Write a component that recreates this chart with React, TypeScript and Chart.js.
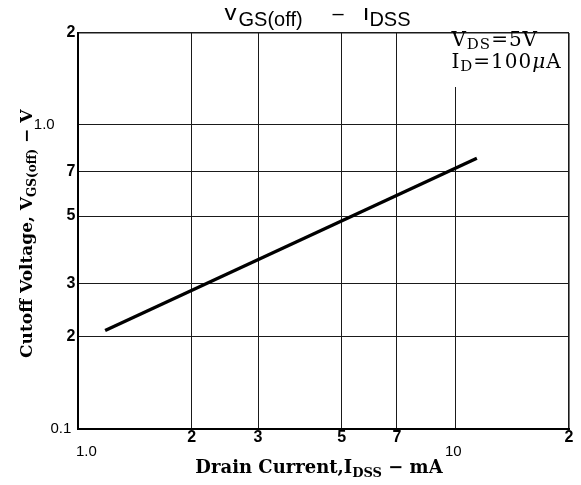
import { useEffect, useRef } from 'react';
import { Chart, registerables } from 'chart.js';

Chart.register(...registerables);

// ---- data ----
const X_TICKS = [1, 2, 3, 5, 7, 10, 20];
const X_LABELS: (string | string[])[] = [['', '    1.0'], '2', '3', '5', '7', ['', '10 '], '2'];
const Y_TICKS = [0.1, 0.2, 0.3, 0.5, 0.7, 1, 2];
const Y_LABELS = ['0.1 ', '2', '3', '5', '7', '1.0     ', '2'];
const I_DSS_MA = [1.18, 11.4];
const V_GS_OFF = [0.21, 0.775];

type Seg = { t?: string; size?: number; weight?: string; style?: string; family?: string; dy?: number; gap?: number };

function segFont(s: Seg, family: string) {
  return `${s.style || 'normal'} ${s.weight || 'normal'} ${s.size || 16}px ${s.family || family}`;
}

function drawSegs(ctx: CanvasRenderingContext2D, segs: Seg[], x: number, y: number, align: 'left' | 'center', family: string) {
  let total = 0;
  const widths = segs.map((s) => {
    if (s.gap !== undefined) return s.gap;
    ctx.font = segFont(s, family);
    return ctx.measureText(s.t || '').width;
  });
  widths.forEach((w) => (total += w));
  let cx = align === 'center' ? x - total / 2 : x;
  ctx.textBaseline = 'alphabetic';
  ctx.textAlign = 'left';
  segs.forEach((s, i) => {
    if (s.gap === undefined) {
      ctx.font = segFont(s, family);
      ctx.fillText(s.t || '', cx, y + (s.dy || 0));
    }
    cx += widths[i];
  });
}

const textPlugin = {
  id: 'texts',
  afterDraw(chart: any) {
    const ctx: CanvasRenderingContext2D = chart.ctx;
    const area = chart.chartArea;
    const xs = chart.scales.x;
    ctx.save();
    ctx.fillStyle = '#000';

    // annotation box (white background hides the 10 mA grid line)
    const boxLeft = xs.getPixelForValue(10) - 7;
    ctx.fillStyle = '#fff';
    ctx.fillRect(boxLeft, area.top + 1, area.right - 1 - boxLeft, 53);
    ctx.fillStyle = '#000';
    (ctx as any).letterSpacing = '1px';
    drawSegs(ctx, [
      { t: 'V', size: 20 },
      { t: 'DS', size: 15, dy: 3 },
      { t: '=', size: 20 },
      { t: '5V', size: 20 },
    ], boxLeft + 3, area.top + 13, 'left', '"DejaVu Serif"');
    drawSegs(ctx, [
      { t: 'I', size: 20 },
      { t: 'D', size: 15, dy: 3 },
      { t: '=', size: 20 },
      { t: '100', size: 20 },
      { t: 'μ', size: 20, style: 'italic' },
      { t: 'A', size: 20 },
    ], boxLeft + 3, area.top + 34.7, 'left', '"DejaVu Serif"');
    (ctx as any).letterSpacing = '0px';

    // title
    drawSegs(ctx, [
      { t: 'V', size: 24 },
      { t: 'GS(off)', size: 20, dy: 6 },
      { gap: 30 },
      { t: '–', size: 20 },
      { gap: 19 },
      { t: 'I', size: 24 },
      { t: 'DSS', size: 20, dy: 6 },
    ], (area.left + area.right) / 2 - 7, 12.4, 'center', '"Liberation Sans"');

    // x title
    drawSegs(ctx, [
      { t: 'Drain Current,I', size: 18, weight: 'bold' },
      { t: 'DSS', size: 13, weight: 'bold', dy: 4 },
      { t: ' − mA', size: 18, weight: 'bold' },
    ], (area.left + area.right) / 2 - 4.5, area.bottom + 44.2, 'center', '"DejaVu Serif"');

    // y title
    ctx.translate(24, (area.top + area.bottom) / 2 + 3);
    ctx.rotate(-Math.PI / 2);
    drawSegs(ctx, [
      { t: 'Cutoff Voltage, V', size: 17, weight: 'bold' },
      { t: 'GS(off)', size: 12, weight: 'bold', dy: 4 },
      { t: ' − V', size: 17, weight: 'bold' },
    ], 0, 0, 'center', '"DejaVu Serif"');
    ctx.restore();
  },
};

const BOLD_X = [false, true, true, true, true, false, true];
const BOLD_Y = [false, true, true, true, true, false, true];

export default function App() {
  const ref = useRef<HTMLCanvasElement | null>(null);
  useEffect(() => {
    if (!ref.current) return;
    const chart = new Chart(ref.current, {
      type: 'line',
      data: {
        datasets: [
          {
            data: I_DSS_MA.map((x, i) => ({ x, y: V_GS_OFF[i] })),
            borderColor: '#000',
            borderWidth: 3.3,
            pointRadius: 0,
            fill: false,
            tension: 0,
          },
        ],
      },
      options: {
        animation: false,
        responsive: false,
        devicePixelRatio: 1,
        layout: { padding: { left: 0, right: 4, top: 25, bottom: 0 } },
        plugins: { legend: { display: false }, tooltip: { enabled: false }, title: { display: false } },
        scales: {
          x: {
            type: 'logarithmic',
            min: 1,
            max: 20,
            afterBuildTicks: (s: any) => {
              s.ticks = X_TICKS.map((v) => ({ value: v }));
            },
            afterFit: (s: any) => {
              s.height = 48.5;
              s.paddingLeft = 0;
              s.paddingRight = 0;
            },
            ticks: {
              autoSkip: false,
              maxRotation: 0,
              minRotation: 0,
              padding: 1.5,
              color: '#000',
              font: (c: any) => ({
                family: '"Liberation Sans"',
                size: BOLD_X[c.index] ? 16 : 15,
                weight: BOLD_X[c.index] ? 'bold' : 'normal',
                lineHeight: 0.95,
              }),
              callback: (_v: any, i: number) => X_LABELS[i],
            },
            grid: {
              color: '#1a1a1a',
              lineWidth: (c: any) => (c.index === X_TICKS.length - 1 ? 1.6 : 1),
              drawTicks: false,
            },
            border: { color: '#000', width: 2 },
          },
          y: {
            type: 'logarithmic',
            min: 0.1,
            max: 2,
            afterBuildTicks: (s: any) => {
              s.ticks = Y_TICKS.map((v) => ({ value: v }));
            },
            afterFit: (s: any) => {
              s.width = 70;
              s.paddingTop = 0;
              s.paddingBottom = 0;
            },
            ticks: {
              autoSkip: false,
              padding: 2.5,
              color: '#000',
              font: (c: any) => ({
                family: '"Liberation Sans"',
                size: BOLD_Y[c.index] ? 16 : 15,
                weight: BOLD_Y[c.index] ? 'bold' : 'normal',
              }),
              callback: (_v: any, i: number) => Y_LABELS[i],
            },
            grid: {
              color: '#1a1a1a',
              lineWidth: (c: any) => (c.index === Y_TICKS.length - 1 ? 1.6 : 1),
              drawTicks: false,
            },
            border: { color: '#000', width: 2 },
          },
        },
      },
      plugins: [textPlugin],
    } as any);
    return () => chart.destroy();
  }, []);
  return (
    <canvas
      ref={ref}
      width={565}
      height={469}
      style={{ display: 'block', width: 565, height: 469 }}
    />
  );
}
